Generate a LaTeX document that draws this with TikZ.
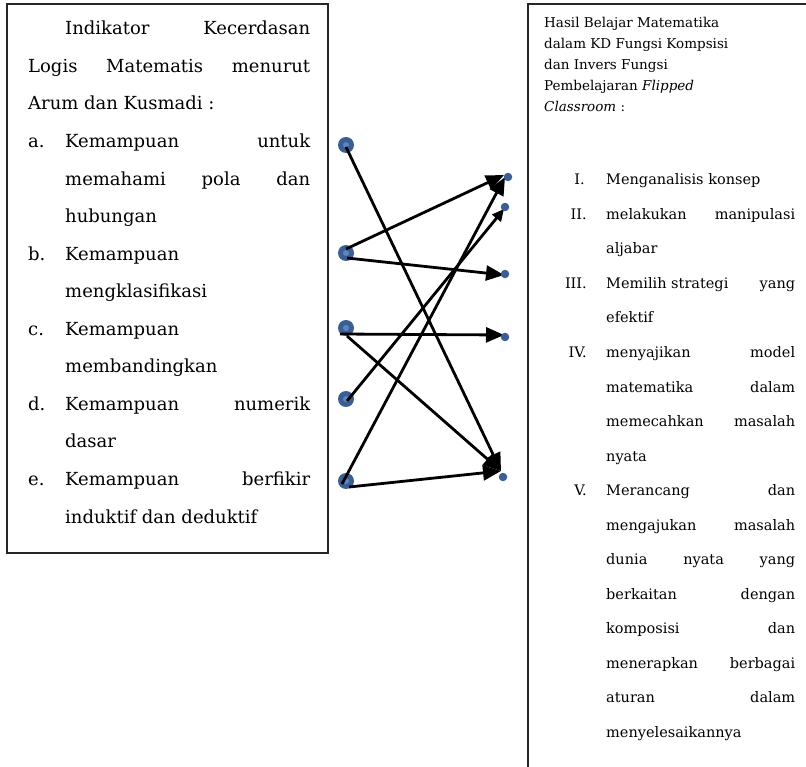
\documentclass[tikz,border=0pt]{standalone}
\usepackage{fontspec}
\setmainfont{DejaVu Serif}
\usetikzlibrary{arrows.meta}
\definecolor{dotout}{HTML}{3B5E93}
\definecolor{dotin}{HTML}{5B86C0}
\tikzset{
  lt/.style={anchor=base west, inner sep=0pt, font=\fontsize{18}{20}\selectfont},
  ht/.style={anchor=base west, inner sep=0pt, font=\fontsize{13.5}{15}\selectfont},
  rt/.style={anchor=base west, inner sep=0pt, font=\fontsize{14.5}{16}\selectfont},
  rn/.style={anchor=base east, inner sep=0pt, font=\fontsize{14.5}{16}\selectfont},
  ldot/.style={circle, fill=dotout, minimum size=16pt, inner sep=0pt},
  ldotin/.style={circle, fill=dotin, minimum size=6pt, inner sep=0pt},
  rdot/.style={circle, fill=dotout, minimum size=8.5pt, inner sep=0pt},
  conn/.style={line width=2.8pt, -{Triangle[length=18pt,width=15pt]}},
  connsm/.style={line width=2.8pt, -{Triangle[length=12pt,width=11pt]}},
  boxline/.style={line width=1.2pt, draw=black!85}
}
\begin{document}
\begin{tikzpicture}[x=1pt,y=-1pt]
\useasboundingbox (0,0) rectangle (806,767);
% boxes
\draw[boxline] (7,4) rectangle (328,553);
\draw[boxline] (528,767) -- (528,4) -- (806,4);
% left text
\node[lt] (l1) at (65,35) {\makebox[245pt]{Indikator\hfill Kecerdasan}};
\node[lt] (l2) at (28,72.5) {\makebox[282pt]{Logis\hfill Matematis\hfill menurut}};
\node[lt] (l3) at (28,110) {Arum dan Kusmadi :};
\node[lt] (la) at (28,147.6) {a.};
\node[lt] (l4) at (65,147.6) {\makebox[245pt]{Kemampuan\hfill untuk}};
\node[lt] (l5) at (65,185.2) {\makebox[245pt]{memahami\hfill pola\hfill dan}};
\node[lt] (l6) at (65,222.7) {hubungan};
\node[lt] (lb) at (28,260.2) {b.};
\node[lt] (l7) at (65,260.2) {Kemampuan};
\node[lt] (l8) at (65,297.7) {mengklasifikasi};
\node[lt] (lc) at (28,335.3) {c.};
\node[lt] (l9) at (65,335.3) {Kemampuan};
\node[lt] (l10) at (65,372.8) {membandingkan};
\node[lt] (ld) at (28,410.3) {d.};
\node[lt] (l11) at (65,410.3) {\makebox[245pt]{Kemampuan\hfill numerik}};
\node[lt] (l12) at (65,447.9) {dasar};
\node[lt] (le) at (28,485.4) {e.};
\node[lt] (l13) at (65,485.4) {\makebox[245pt]{Kemampuan\hfill berfikir}};
\node[lt] (l14) at (65,523) {induktif dan deduktif};
% right header
\node[ht] (h1) at (544,28) {Hasil Belajar Matematika};
\node[ht] (h2) at (544,49) {dalam KD Fungsi Kompsisi};
\node[ht] (h3) at (544,70) {dan Invers Fungsi};
\node[ht] (h4) at (544,91) {Pembelajaran \textit{Flipped}};
\node[ht] (h5) at (544,112) {\textit{Classroom} :};
% right list
\node[rn] (nI) at (585,185) {I.};
\node[rt] (r1) at (606,185) {Menganalisis konsep};
\node[rn] (nII) at (587,219.5) {II.};
\node[rt] (r2) at (606,219.5) {\makebox[189pt]{melakukan\hfill manipulasi}};
\node[rt] (r3) at (606,254) {aljabar};
\node[rn] (nIII) at (587,288.5) {III.};
\node[rt] (r4) at (606,288.5) {\makebox[189pt]{Memilih strategi\hfill yang}};
\node[rt] (r5) at (606,323) {efektif};
\node[rn] (nIV) at (587,357.5) {IV.};
\node[rt] (r6) at (606,357.5) {\makebox[189pt]{menyajikan\hfill model}};
\node[rt] (r7) at (606,392) {\makebox[189pt]{matematika\hfill dalam}};
\node[rt] (r8) at (606,426.5) {\makebox[189pt]{memecahkan\hfill masalah}};
\node[rt] (r9) at (606,461) {nyata};
\node[rn] (nV) at (587,495.5) {V.};
\node[rt] (r10) at (606,495.5) {\makebox[189pt]{Merancang\hfill dan}};
\node[rt] (r11) at (606,530) {\makebox[189pt]{mengajukan\hfill masalah}};
\node[rt] (r12) at (606,564.5) {\makebox[189pt]{dunia\hfill nyata\hfill yang}};
\node[rt] (r13) at (606,599) {\makebox[189pt]{berkaitan\hfill dengan}};
\node[rt] (r14) at (606,633.5) {\makebox[189pt]{komposisi\hfill dan}};
\node[rt] (r15) at (606,668) {\makebox[189pt]{menerapkan\hfill berbagai}};
\node[rt] (r16) at (606,702.5) {\makebox[189pt]{aturan\hfill dalam}};
\node[rt] (r17) at (606,737) {menyelesaikannya};
% left dots
\foreach \n/\y in {da/145,db/253,dc/328,dd/399,de/481}{
  \node[ldot] (\n) at (346,\y) {};
  \node[ldotin] (\n i) at (346,\y) {};
}
% start and tip coordinates
\coordinate (sa) at (346,147);
\coordinate (sb1) at (346,249);
\coordinate (sb2) at (347,258);
\coordinate (sc1) at (340,334);
\coordinate (sc2) at (347,336);
\coordinate (sd) at (347,401);
\coordinate (se1) at (342,484);
\coordinate (se2) at (349,487);
\coordinate (tI1) at (504,175);
\coordinate (tI2) at (505,177);
\coordinate (tII) at (504,209);
\coordinate (tIII) at (504,275);
\coordinate (tIV) at (504,335);
\coordinate (tV) at (501,471);
% connectors
\draw[conn] (sa) -- (tV);
\draw[conn] (sb1) -- (tI1);
\draw[conn] (sb2) -- (tIII);
\draw[conn] (sc1) -- (tIV);
\draw[conn] (sc2) -- (tV);
\draw[connsm] (sd) -- (tII);
\draw[conn] (se1) -- (tI2);
\draw[conn] (se2) -- (tV);
% right dots
\node[rdot] (pI) at (508,177) {};
\node[rdot] (pII) at (505,207) {};
\node[rdot] (pIII) at (505,274) {};
\node[rdot] (pIV) at (505,337) {};
\node[rdot] (pV) at (503,477) {};
\end{tikzpicture}
\end{document}
